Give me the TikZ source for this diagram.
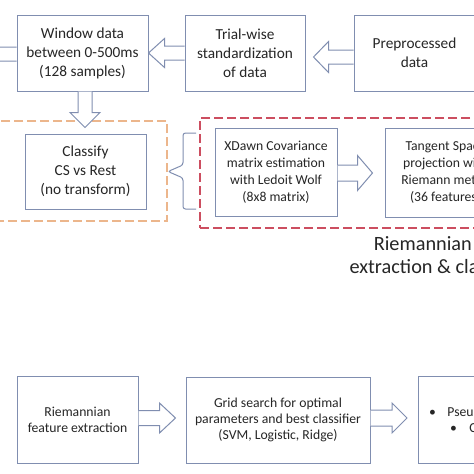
\documentclass[tikz,border=0pt]{standalone}
\usepackage{fontspec}
\setmainfont{Carlito}
\usetikzlibrary{calc}
\definecolor{boxc}{RGB}{128,142,176}
\definecolor{orgc}{RGB}{236,182,140}
\definecolor{redc}{RGB}{204,78,96}
\definecolor{txtc}{RGB}{38,38,38}
% hollow block arrows: #1 shaft start, #2 target, #3 gap, #4 shaft half, #5 head half, #6 head length, #7 shift
\newcommand{\blkR}[7]{%
  \filldraw[blk] let \p1=(#1), \p2=(#2), \n1={\y1-(#7)} in
    ({\x1},{\n1+#4}) -- ({\x2-#3-#6},{\n1+#4}) -- ({\x2-#3-#6},{\n1+#5})
    -- ({\x2-#3},{\n1}) -- ({\x2-#3-#6},{\n1-#5}) -- ({\x2-#3-#6},{\n1-#4}) -- ({\x1},{\n1-#4});}
\newcommand{\blkL}[7]{%
  \filldraw[blk] let \p1=(#1), \p2=(#2), \n1={\y1-(#7)} in
    ({\x1},{\n1+#4}) -- ({\x2+#3+#6},{\n1+#4}) -- ({\x2+#3+#6},{\n1+#5})
    -- ({\x2+#3},{\n1}) -- ({\x2+#3+#6},{\n1-#5}) -- ({\x2+#3+#6},{\n1-#4}) -- ({\x1},{\n1-#4});}
\newcommand{\blkD}[7]{%
  \filldraw[blk] let \p1=(#1), \p2=(#2), \n1={\x1+(#7)} in
    ({\n1-#4},{\y1}) -- ({\n1-#4},{\y2+#3+#6}) -- ({\n1-#5},{\y2+#3+#6})
    -- ({\n1},{\y2+#3}) -- ({\n1+#5},{\y2+#3+#6}) -- ({\n1+#4},{\y2+#3+#6}) -- ({\n1+#4},{\y1});}
\begin{document}
\begin{tikzpicture}[x=1pt,y=-1pt,
  box/.style={draw=boxc, line width=1pt, text=txtc, align=center, inner sep=0pt},
  fA/.style={font=\fontsize{15.3}{19}\selectfont},
  fB/.style={font=\fontsize{13.7}{17}\selectfont},
  fC/.style={font=\fontsize{13.7}{16.3}\selectfont},
  blk/.style={draw=boxc, line width=1pt, fill=white, line join=miter},
  grp/.style={line width=1.2pt, dash pattern=on 9pt off 4pt, inner sep=0pt},
  bracket/.style={draw=boxc, line width=1pt, rounded corners=2.5pt}]
\useasboundingbox (0,0) rectangle (474,474);
\fill[white] (0,0) rectangle (474,474);
\clip (0,0) rectangle (474,474);
% top row
\node[box,fA,minimum width=131pt,minimum height=76pt] (window) at (82.5,53) {Window data\\between 0-500ms\\(128 samples)};
\node[box,fA,minimum width=120pt,minimum height=76pt] (trial) at (245,53) {Trial-wise\\standardization\\of data};
\node[box,fA,minimum width=121pt,minimum height=76pt] (pre) at (414.5,53) {Preprocessed\\data};
\coordinate (offl) at (-30,53);
% middle row
\node[grp, draw=orgc, minimum width=172pt, minimum height=100pt] (ogrp) at (81,171) {};
\node[box,fA,minimum width=121pt,minimum height=75pt] (classify) at (85.5,171.5) {Classify\\CS vs Rest\\(no transform)};
\node[grp, draw=redc, minimum width=340pt, minimum height=110pt] (rgrp) at (370,173) {};
\node[box,fB,minimum width=122pt,minimum height=88pt] (xdawn) at (276,172) {XDawn Covariance\\matrix estimation\\with Ledoit Wolf\\(8x8 matrix)};
\node[box,fB,minimum width=121pt,minimum height=89pt] (tangent) at (445.5,172.5) {Tangent Space\\projection with\\Riemann metric\\(36 features)};
\node[text=txtc, font=\fontsize{20.3}{23}\selectfont, align=center, inner sep=0pt, anchor=south] (title) at (455,274) {Riemannian feature\\extraction \& classification};
% bottom row
\node[box,fC,minimum width=121pt,minimum height=87pt] (riem) at (77.5,419.5) {Riemannian\\feature extraction};
\node[box,fC,minimum width=184pt,minimum height=86pt] (grid) at (278,420) {Grid search for optimal\\parameters and best classifier\\(SVM, Logistic, Ridge)};
\node[box,fC,anchor=west,align=left,text width=190pt,inner xsep=10.5pt,minimum height=87pt] (pseudo) at (418,419.5) {\makebox[18.4pt][l]{•}Pseudo-online evaluation\\\hspace*{21pt}\makebox[19.4pt][l]{•}CS vs Rest};
% connectors
\blkL{window.west}{offl}{0}{7}{17}{15}{1}
\blkL{trial.west}{window.east}{0}{7}{14.5}{16}{0}
\blkL{pre.west}{trial.east}{8}{7}{15.5}{15}{4}
\blkD{window.south}{classify.north}{6}{7}{15}{15}{2.5}
\blkR{xdawn.east}{tangent.west}{12}{8}{17.5}{15}{1}
\blkR{riem.east}{grid.west}{10}{7.5}{15}{16}{-1.5}
\blkR{grid.east}{pseudo.west}{11}{8}{15}{15}{-2}
% bracket joining the two groups
\draw[bracket] (196,133) -- (183,133) -- (183,165) -- (168,171.5) -- (183,178) -- (183,209) -- (196,209);
\end{tikzpicture}
\end{document}
